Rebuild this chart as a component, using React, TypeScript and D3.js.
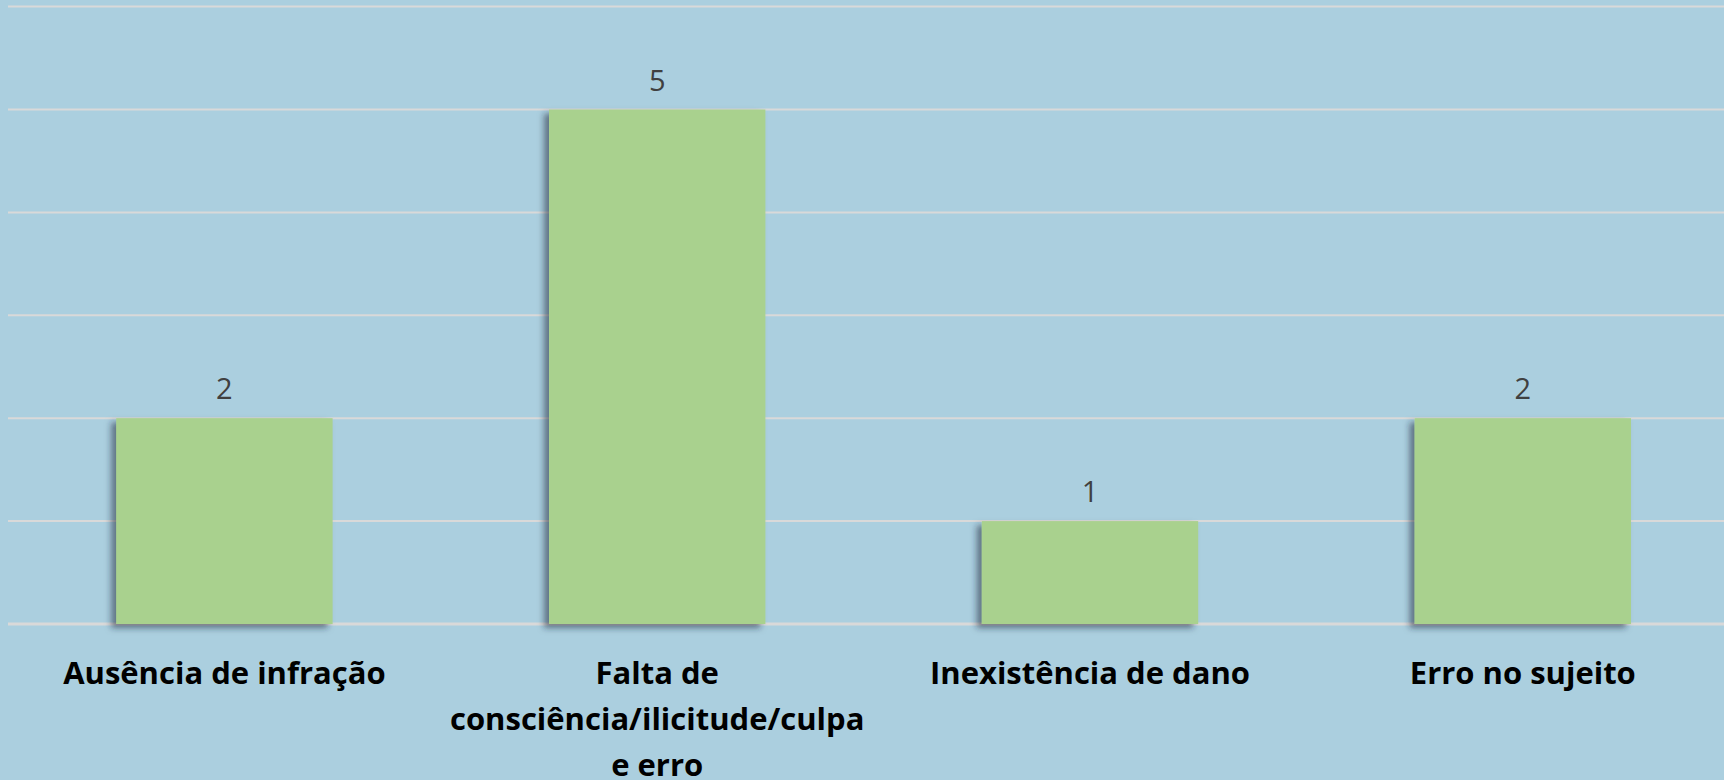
import React from "react";
import * as d3 from "d3";

const categories = [
  "Ausência de infração",
  "Falta de consciência/ilicitude/culpa e erro",
  "Inexistência de dano",
  "Erro no sujeito",
];
const categoryLines = [
  ["Ausência de infração"],
  ["Falta de", "consciência/ilicitude/culpa", "e erro"],
  ["Inexistência de dano"],
  ["Erro no sujeito"],
];
const values = [2, 5, 1, 2];
const yTicks = [0, 1, 2, 3, 4, 5, 6];

const W = 1724;
const H = 780;
const left = 8;
const step = 432.8;
const baseY = 624;
const topY = 6.6;

export default function App() {
  const x = d3
    .scaleBand<string>()
    .domain(categories)
    .range([left, left + step * categories.length])
    .paddingInner(0.5)
    .paddingOuter(0.25);
  const y = d3.scaleLinear().domain([0, 6]).range([baseY, topY]);

  return (
    <svg
      width={W}
      height={H}
      style={{ position: "absolute", left: 0, top: 0, display: "block" }}
    >
      <defs>
        <filter id="sh" x="-20%" y="-20%" width="140%" height="140%">
          <feDropShadow dx={-5} dy={4} stdDeviation={3} floodColor="#1b2a3a" floodOpacity={0.55} />
        </filter>
      </defs>
      <rect x={0} y={0} width={W} height={H} fill="#ABCFDF" />
      {yTicks.map((t) => (
        <line
          key={t}
          x1={left}
          x2={W}
          y1={y(t)}
          y2={y(t)}
          stroke="#D9D9D9"
          strokeWidth={t === 0 ? 3 : 2}
        />
      ))}
      {categories.map((c, i) => (
        <rect
          key={c}
          x={x(c)}
          y={y(values[i])}
          width={x.bandwidth()}
          height={y(0) - y(values[i])}
          fill="#A9D18E"
          filter="url(#sh)"
        />
      ))}
      {categories.map((c, i) => (
        <text
          key={c + "v"}
          x={(x(c) as number) + x.bandwidth() / 2}
          y={y(values[i]) - 19}
          textAnchor="middle"
          fontFamily="'Open Sans', sans-serif"
          fontSize={29}
          fill="#404040"
        >
          {values[i]}
        </text>
      ))}
      {categories.map((c, i) => (
        <text
          key={c + "l"}
          textAnchor="middle"
          fontFamily="'Open Sans', sans-serif"
          fontWeight="bold"
          fontSize={31}
          fill="#000000"
        >
          {categoryLines[i].map((ln, j) => (
            <tspan key={j} x={(x(c) as number) + x.bandwidth() / 2} y={684 + j * 46}>
              {ln}
            </tspan>
          ))}
        </text>
      ))}
    </svg>
  );
}
